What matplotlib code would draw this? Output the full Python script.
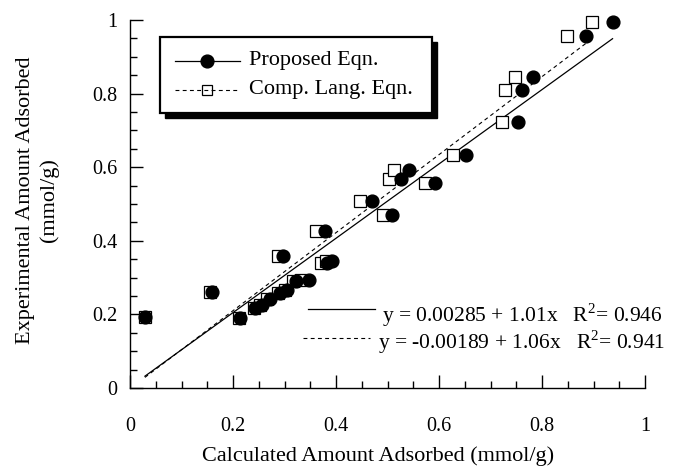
import numpy as np
import matplotlib.pyplot as plt
from matplotlib.lines import Line2D
from matplotlib.patches import Rectangle

plt.rcParams['font.family'] = 'Liberation Serif'
plt.rcParams['mathtext.fontset'] = 'custom'
plt.rcParams['mathtext.rm'] = 'Liberation Serif'

# experimental amount adsorbed (shared by both models)
y_exp = [0.193, 0.261, 0.190, 0.217, 0.226, 0.242, 0.257, 0.265, 0.292, 0.293,
         0.360, 0.427, 0.339, 0.345, 0.469, 0.508, 0.567, 0.592, 0.558, 0.633,
         0.724, 0.810, 0.846, 0.957, 0.995]
# calculated, proposed eqn.
x_prop = [0.029, 0.159, 0.214, 0.243, 0.256, 0.271, 0.292, 0.305, 0.323, 0.347,
          0.298, 0.379, 0.382, 0.393, 0.509, 0.469, 0.526, 0.541, 0.592, 0.653,
          0.754, 0.762, 0.782, 0.885, 0.937]
# calculated, comp. lang. eqn.
x_lang = [0.029, 0.156, 0.212, 0.240, 0.252, 0.266, 0.288, 0.300, 0.317, 0.333,
          0.288, 0.362, 0.371, 0.380, 0.492, 0.447, 0.502, 0.513, 0.572, 0.627,
          0.722, 0.729, 0.748, 0.848, 0.898]

fit_prop = (0.00285, 1.01, 0.946)
fit_lang = (-0.00189, 1.06, 0.941)

fig = plt.figure(figsize=(6.86, 4.69), dpi=100)
ax = fig.add_axes([130/686, 1 - 388/469, 515/686, 368/469])

# fit lines
xf = np.array([min(x_prop), max(x_prop)])
ax.plot(xf, fit_prop[0] + fit_prop[1]*xf, color='black', lw=0.9, zorder=2)
xf2 = np.array([min(x_lang), max(x_lang)])
ax.plot(xf2, fit_lang[0] + fit_lang[1]*xf2, color='black', lw=0.8,
        linestyle=(0, (3.5, 3)), zorder=2)

ax.plot(x_lang, y_exp, 's', ms=8.6, mfc='white', mec='black', mew=0.9, zorder=3,
        clip_on=False)
ax.plot(x_prop, y_exp, 'o', ms=9.2, color='black', zorder=4, clip_on=False)

ax.set_xlim(0, 1)
ax.set_ylim(0, 1)
ax.set_xticks(np.arange(0, 1.01, 0.2))
ax.set_yticks(np.arange(0, 1.01, 0.2))
ax.set_xticks(np.arange(0, 1.01, 0.05), minor=True)
ax.set_yticks(np.arange(0, 1.01, 0.05), minor=True)
ax.set_xticklabels(['0', '0.2', '0.4', '0.6', '0.8', '1'])
ax.set_yticklabels(['0', '0.2', '0.4', '0.6', '0.8', '1'])
ax.spines['top'].set_visible(False)
ax.spines['right'].set_visible(False)
for s in ['left', 'bottom']:
    ax.spines[s].set_linewidth(1.0)
ax.tick_params(which='major', direction='in', length=9.4, width=1.0, labelsize=14.5)
ax.tick_params(which='minor', direction='in', length=4.8, width=1.0)
ax.tick_params(axis='x', which='major', pad=21)
ax.tick_params(axis='y', which='major', pad=9)

ax.text(0.482, -0.184, 'Calculated Amount Adsorbed (mmol/g)', transform=ax.transAxes,
        ha='center', va='center', fontsize=16)
ax.text(-0.18, 0.51, 'Experimental Amount Adsorbed\n(mmol/g)', transform=ax.transAxes,
        ha='center', va='center', rotation=90, fontsize=16, linespacing=1.3,
        multialignment='center')

# legend box with heavy shadow
bx0, by0, bw, bh = 0.058, 0.747, 0.528, 0.207
ox, oy = 5/515, 5/368
ax.add_patch(Rectangle((bx0 + ox, by0 - oy), bw, bh, transform=ax.transAxes,
                       facecolor='black', edgecolor='black', clip_on=False, zorder=5))
ax.add_patch(Rectangle((bx0, by0), bw, bh, transform=ax.transAxes, facecolor='white',
                       edgecolor='black', lw=1.6, clip_on=False, zorder=6))
ax.add_line(Line2D([0.087, 0.214], [0.889, 0.889], transform=ax.transAxes,
                   color='black', lw=0.9, zorder=7))
ax.add_line(Line2D([0.150], [0.889], transform=ax.transAxes, marker='o', ms=9.2,
                   color='black', zorder=8))
ax.add_line(Line2D([0.087, 0.214], [0.810, 0.810], transform=ax.transAxes,
                   color='black', lw=0.8, linestyle=(0, (3.5, 3)), zorder=7))
ax.add_line(Line2D([0.150], [0.810], transform=ax.transAxes, marker='s', ms=7,
                   mfc='none', mec='black', mew=0.9, zorder=8))
ax.text(0.231, 0.889, 'Proposed Eqn.', transform=ax.transAxes, ha='left',
        va='center', fontsize=16, zorder=8)
ax.text(0.231, 0.810, 'Comp. Lang. Eqn.', transform=ax.transAxes, ha='left',
        va='center', fontsize=16, zorder=8)

# equations
ax.add_line(Line2D([0.346, 0.476], [0.215, 0.215], transform=ax.transAxes,
                   color='black', lw=0.9))
ax.add_line(Line2D([0.336, 0.466], [0.136, 0.136], transform=ax.transAxes,
                   color='black', lw=0.8, linestyle=(0, (3.5, 3))))
ax.text(0.489, 0.199, 'y = %.5f + %.2fx   R$^{2}$= %.3f' % fit_prop,
        transform=ax.transAxes, ha='left', va='center', fontsize=15.5)
ax.text(0.481, 0.124, 'y = %.5f + %.2fx   R$^{2}$= %.3f' % fit_lang,
        transform=ax.transAxes, ha='left', va='center', fontsize=15.5)

plt.savefig('out.png', dpi=100)
